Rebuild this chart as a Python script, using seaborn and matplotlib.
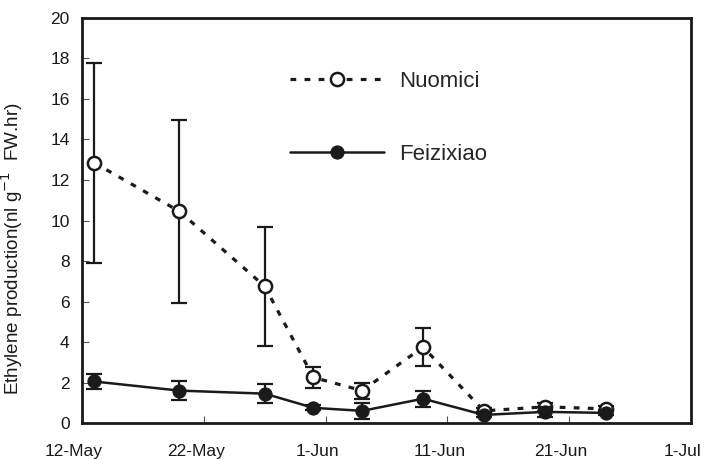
import matplotlib
matplotlib.use("Agg")
import matplotlib.pyplot as plt
import matplotlib.transforms as mtransforms
import seaborn as sns
import pandas as pd
import numpy as np

# ---- data ----
dates = ["2009-05-13", "2009-05-20", "2009-05-27", "2009-05-31", "2009-06-04",
         "2009-06-09", "2009-06-14", "2009-06-19", "2009-06-24"]
nuomici = [12.85, 10.45, 6.75, 2.25, 1.6, 3.75, 0.6, 0.8, 0.7]
nuomici_err = [4.95, 4.5, 2.95, 0.5, 0.4, 0.95, 0.15, 0.2, 0.12]
feizixiao = [2.05, 1.6, 1.45, 0.75, 0.6, 1.2, 0.4, 0.55, 0.5]
feizixiao_err = [0.38, 0.45, 0.48, 0.12, 0.4, 0.4, 0.12, 0.25, 0.12]
tick_dates = ["2009-05-12", "2009-05-22", "2009-06-01", "2009-06-11", "2009-06-21", "2009-07-01"]
tick_labels = ["12-May", "22-May", "1-Jun", "11-Jun", "21-Jun", "1-Jul"]
y_ticks = [0, 2, 4, 6, 8, 10, 12, 14, 16, 18, 20]

sns.set_theme(style="ticks")
plt.rcParams['font.family'] = ['Liberation Sans', 'DejaVu Sans']

d = pd.to_datetime(dates)
df = pd.DataFrame({"date": list(d) * 2,
                   "value": nuomici + feizixiao,
                   "cultivar": ["Nuomici"] * len(d) + ["Feizixiao"] * len(d)})

fig = plt.figure(figsize=(7.04, 4.59), dpi=100)
ax = fig.add_axes([0.1165, 0.0784, 0.865, 0.8824])

ink = "#1a1a1a"
# error bars
ax.errorbar(d, nuomici, yerr=nuomici_err, fmt="none", ecolor=ink,
            elinewidth=1.6, capsize=6, capthick=1.6, zorder=2)
ax.errorbar(d, feizixiao, yerr=feizixiao_err, fmt="none", ecolor=ink,
            elinewidth=1.6, capsize=6, capthick=1.6, zorder=4)

sns.lineplot(data=df[df.cultivar == "Nuomici"], x="date", y="value", ax=ax,
             color=ink, linewidth=2.3, marker="o", markersize=9.5,
             markerfacecolor="white", markeredgecolor=ink, markeredgewidth=1.8,
             label="Nuomici", zorder=3)
ax.lines[-1].set_dashes([1.8, 2.6])
sns.lineplot(data=df[df.cultivar == "Feizixiao"], x="date", y="value", ax=ax,
             color=ink, linewidth=1.8, marker="o", markersize=9.5,
             markerfacecolor=ink, markeredgecolor=ink,
             label="Feizixiao", zorder=5)

ax.set_xlim(pd.Timestamp(tick_dates[0]), pd.Timestamp(tick_dates[-1]))
ax.set_ylim(0, 20)
ax.set_xticks(pd.to_datetime(tick_dates))
ax.set_xticklabels(tick_labels)
ax.set_yticks(y_ticks)
ax.tick_params(axis="both", direction="in", length=5, width=0.8, color="#555555",
               labelsize=12.5, labelcolor=ink)
ax.tick_params(axis="x", pad=15)
ax.tick_params(axis="y", pad=9)
# shift x tick labels slightly left, as in the reference
offset = mtransforms.ScaledTranslation(-8 / 100, 0, fig.dpi_scale_trans)
for lab in ax.get_xticklabels():
    lab.set_transform(lab.get_transform() + offset)

ax.set_xlabel("")
ax.set_ylabel("Ethylene production(nl g$^{-1}$  FW.hr)", fontsize=13.6, color=ink)
ax.yaxis.set_label_coords(-0.094, 0.43)
for s in ax.spines.values():
    s.set_linewidth(2.0)
    s.set_color(ink)
    s.set_visible(True)

leg = ax.legend(loc="upper left", bbox_to_anchor=(0.342, 0.87), frameon=False,
                fontsize=16, handlelength=4.2, labelspacing=2.35, handletextpad=0.7,
                borderaxespad=0, borderpad=0)

fig.savefig("out.png", dpi=100)
